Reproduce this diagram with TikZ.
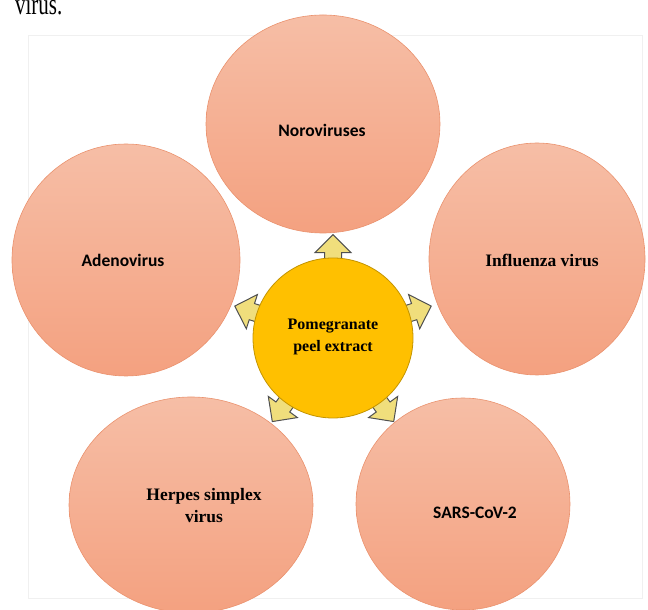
\documentclass[tikz,border=0pt]{standalone}
\usepackage{fontspec}
\setmainfont{Liberation Serif}
\newfontfamily\calibri{Carlito}
\usetikzlibrary{shapes.geometric,shapes.arrows,calc}
\definecolor{salmontop}{RGB}{246,190,166}
\definecolor{salmonbot}{RGB}{244,161,128}
\definecolor{salmonline}{RGB}{234,146,110}
\definecolor{gold}{RGB}{255,192,0}
\definecolor{goldline}{RGB}{196,148,0}
\definecolor{arrfill}{RGB}{240,222,124}
\definecolor{arrline}{RGB}{80,80,80}

\begin{document}
\begin{tikzpicture}[x=1pt,y=1pt,
    virus/.style={ellipse,draw=salmonline,line width=0.6pt,top color=salmontop,bottom color=salmonbot,inner sep=0pt},
    timesb/.style={font=\bfseries\fontsize{17.5}{22}\selectfont,align=center,text=black},
    calb/.style={font=\calibri\bfseries\fontsize{17.5}{22}\selectfont,text=black},
    blockarr/.style={single arrow,draw=arrline,fill=arrfill,line width=1pt,inner sep=8pt,minimum height=34pt,single arrow head extend=9.5pt}]
    \useasboundingbox (0,0) rectangle (648,610);
    \draw[black!6] (28,12) rectangle (642,575);
    \node[anchor=base west,xscale=0.7,inner sep=0pt,font=\fontsize{30}{30}\selectfont] (cut) at (15,595) {virus.};
    % outer circles
    \node[virus,minimum width=234pt,minimum height=218pt] (noro) at (323,486) {};
    \node[virus,minimum width=228pt,minimum height=232pt] (adeno) at (126,350) {};
    \node[virus,minimum width=216pt,minimum height=232pt] (influ) at (537,351) {};
    \node[virus,minimum width=244pt,minimum height=216pt] (herpes) at (191,105) {};
    \node[virus,minimum width=214pt,minimum height=212pt] (sars) at (463,106) {};
    \node[calb] (norotxt) at (322,480) {Noroviruses};
    \node[calb] (adenotxt) at (123,350) {Adenovirus};
    \node[timesb] (influtxt) at (542,350) {Influenza virus};
    \node[timesb] (herpestxt) at (204,104) {Herpes simplex\\virus};
    \node[calb] (sarstxt) at (475,97) {SARS-CoV-2};
    % arrows out of the extract
    \coordinate (c) at (333,272);
    \foreach \a in {18,90,162,234,306}
        \node[blockarr,rotate=\a,anchor=tip] (arr\a) at ($(c)+(\a:104)$) {};
    \node[circle,draw=goldline,fill=gold,line width=0.8pt,minimum size=160pt] (pe) at (c) {};
    \node[timesb,font=\bfseries\fontsize{16}{22}\selectfont] (petxt) at (333,273) {Pomegranate\\peel extract};
\end{tikzpicture}
\end{document}
